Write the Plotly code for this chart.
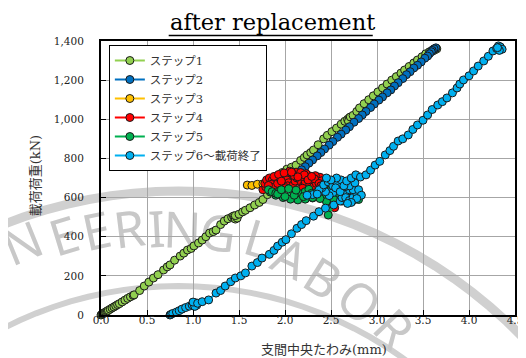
import math
import plotly.graph_objects as go

# ---------------- data ----------------
series_names = ["ステップ1", "ステップ2", "ステップ3", "ステップ4", "ステップ5", "ステップ6〜載荷終了"]
series_colors = ["#92D050", "#0070C0", "#FFC000", "#FF0000", "#00B050", "#00B0F0"]

step1_x = [0.00, 0.01, 0.02, 0.02, 0.03, 0.04, 0.05, 0.06, 0.07, 0.08, 0.10, 0.12, 0.14, 0.16, 0.18,
           0.20, 0.23, 0.26, 0.29, 0.32, 0.35, 0.36, 0.42, 0.47, 0.52, 0.57, 0.62, 0.68, 0.72, 0.75,
           0.80, 0.86, 0.90, 0.94, 0.98, 1.01, 1.06, 1.10, 1.14, 1.18, 1.22, 1.25, 1.30, 1.34, 1.38,
           1.42, 1.44, 1.45, 1.46, 1.47, 1.48, 1.46, 1.50, 1.54, 1.57, 1.62, 1.67, 1.72, 1.76, 1.81,
           1.86, 1.90, 1.94, 1.97, 2.02, 2.07, 2.12, 2.17, 2.21, 2.24, 2.28, 2.31, 2.36, 2.42, 2.46,
           2.51, 2.56, 2.61, 2.65, 2.68, 2.70, 2.72, 2.69, 2.71, 2.74, 2.78, 2.81, 2.86, 2.91, 2.96,
           3.01, 3.06, 3.11, 3.16, 3.21, 3.26, 3.30, 3.35, 3.40, 3.44, 3.49, 3.53, 3.57, 3.60, 3.62,
           3.64, 3.65, 3.63, 3.61]
step1_y = [0, 3, 6, 8, 10, 12, 15, 18, 21, 24, 30, 36, 41, 47, 53,
           58, 67, 76, 85, 93, 100, 103, 125, 148, 168, 189, 206, 230, 246, 256,
           280, 301, 316, 332, 340, 353, 368, 383, 400, 419, 426, 434, 462, 480, 492,
           500, 506, 498, 490, 503, 495, 508, 515, 527, 535, 548, 562, 575, 590, 615,
           650, 680, 705, 728, 745, 755, 766, 790, 805, 818, 830, 843, 870, 900, 918,
           937, 955, 975, 990, 1000, 1008, 995, 990, 1012, 1020, 1040, 1058, 1080, 1100, 1120,
           1140, 1160, 1180, 1200, 1218, 1236, 1252, 1270, 1288, 1303, 1320, 1335, 1345, 1352, 1358,
           1362, 1360, 1355, 1350]

step2_x = [3.64, 3.62, 3.60, 3.59, 3.57, 3.55, 3.52, 3.48, 3.44, 3.40, 3.36, 3.32, 3.28, 3.23, 3.19,
           3.15, 3.11, 3.06, 3.02, 2.97, 2.93, 2.88, 2.84, 2.80, 2.75, 2.70, 2.66, 2.61, 2.57, 2.52,
           2.48, 2.43, 2.39, 2.35, 2.30, 2.26, 2.22, 2.18, 2.14, 2.10]
step2_y = [1365, 1360, 1352, 1345, 1335, 1323, 1312, 1293, 1276, 1262, 1243, 1228, 1208, 1187, 1170,
           1150, 1135, 1114, 1098, 1078, 1060, 1040, 1022, 1004, 985, 962, 945, 924, 908, 886,
           868, 848, 830, 813, 792, 776, 758, 742, 725, 710]

step3_x = [1.59, 1.64, 1.70, 1.76, 1.80]
step3_y = [664, 662, 668, 670, 676]

step4_x = [1.80, 1.76, 1.79, 1.78, 1.80, 1.83, 1.86, 1.85, 1.89, 1.92, 1.95, 1.97, 2.00, 2.02, 2.04,
           2.03, 2.06, 2.09, 2.11, 2.13, 2.15, 2.12, 2.08, 2.05, 2.10, 2.16, 2.18, 2.20, 2.22, 2.24,
           2.26, 2.23, 2.19, 2.17, 2.21, 2.28, 2.30, 2.27, 2.31, 2.34, 2.36, 2.38, 2.33, 2.40, 2.42,
           2.44, 2.41, 2.45, 2.47, 2.50, 2.53, 2.56, 2.60, 2.63, 2.66, 2.69, 2.72, 2.58, 2.54, 2.52,
           2.54, 1.88, 1.93, 1.99, 2.07, 2.14, 2.25, 2.32, 2.37, 1.82, 1.96, 2.01, 2.19, 2.29, 2.39]
step4_y = [676, 640, 655, 672, 690, 700, 688, 668, 655, 672, 695, 712, 705, 690, 676,
           660, 648, 665, 684, 700, 718, 730, 722, 735, 712, 695, 676, 660, 680, 698,
           712, 722, 708, 728, 716, 700, 684, 668, 655, 672, 690, 704, 712, 686, 670,
           656, 645, 690, 676, 660, 645, 668, 652, 638, 660, 645, 630, 612, 590, 560,
           548, 708, 718, 726, 730, 706, 690, 696, 672, 662, 684, 650, 648, 708, 660]

step5_x = [2.53, 2.47, 2.42, 2.36, 2.30, 2.22, 2.14, 2.06, 1.98, 1.90, 1.84, 1.82, 1.86, 1.90,
           1.94, 1.92, 2.18, 2.22, 2.26, 2.29, 2.32, 2.35, 2.38, 2.41, 2.44, 2.47, 2.50, 2.53, 2.56,
           2.59, 2.62, 2.65, 2.68, 2.72, 2.76, 2.80, 2.74, 2.70, 2.62, 2.55, 2.47, 2.53,
           2.45, 2.38, 2.30, 2.20, 2.10, 2.00, 1.96, 2.04, 2.12]
step5_y = [590, 600, 612, 605, 598, 592, 588, 592, 600, 612, 628, 640, 630, 622,
           635, 618, 620, 630, 642, 622, 610, 628, 640, 620, 605, 625, 640, 615, 600,
           620, 635, 612, 598, 615, 605, 590, 585, 578, 582, 580, 511, 590,
           580, 595, 600, 605, 612, 605, 640, 645, 638]

step6_x = [0.75, 0.76, 0.78, 0.82, 0.85, 0.88, 0.92, 0.96, 0.99, 1.01, 1.03, 1.04, 1.02, 1.00, 1.05,
           1.10, 1.17, 1.25, 1.30, 1.35, 1.41, 1.46, 1.52, 1.57, 1.64, 1.70, 1.75, 1.83, 1.88, 1.92,
           1.97, 2.01, 2.07, 2.13, 2.18, 2.23, 2.31, 2.37, 2.44, 2.53, 2.60, 2.62, 2.66, 2.70, 2.65,
           2.58, 2.52, 2.48, 2.44, 2.40, 2.37, 2.42, 2.47, 2.52, 2.57, 2.61, 2.56, 2.50, 2.45, 2.30,
           2.24, 2.35, 2.55, 2.60, 2.66, 2.70, 2.74, 2.78, 2.74, 2.70, 2.76, 2.80, 2.83, 2.78, 2.72,
           2.68, 2.64, 2.67, 2.72, 2.77, 2.82, 2.88, 2.93, 2.98, 3.03, 3.09, 3.14, 3.18, 3.23, 3.28,
           3.34, 3.39, 3.44, 3.50, 3.55, 3.60, 3.66, 3.71, 3.76, 3.82, 3.87, 3.90, 3.94, 4.00, 4.05,
           4.10, 4.16, 4.21, 4.26, 4.30, 4.32, 4.34, 4.36, 4.33, 4.31]
step6_y = [0, 3, 8, 15, 22, 30, 38, 45, 52, 58, 62, 50, 44, 66, 60,
           68, 77, 112, 125, 148, 170, 189, 200, 215, 250, 268, 291, 310, 330, 352,
           372, 385, 415, 443, 462, 482, 505, 528, 546, 562, 582, 600, 620, 640, 655,
           640, 625, 610, 630, 650, 640, 665, 680, 660, 672, 690, 700, 690, 700, 615,
           612, 618, 650, 630, 600, 585, 600, 620, 640, 660, 675, 640, 612, 595, 575,
           570, 660, 685, 700, 716, 705, 716, 740, 766, 785, 818, 840, 862, 889, 900,
           920, 948, 971, 995, 1022, 1050, 1073, 1090, 1109, 1135, 1160, 1180, 1201, 1222, 1247,
           1272, 1298, 1322, 1349, 1362, 1375, 1370, 1358, 1352, 1366]

x_ticks = [0.0, 0.5, 1.0, 1.5, 2.0, 2.5, 3.0, 3.5, 4.0, 4.5]
y_ticks = [0, 200, 400, 600, 800, 1000, 1200, 1400]

title_text = "after replacement"
x_title = "支間中央たわみ(mm)"
y_title = "載荷荷重(kN)"

# watermark (decoration)
wm_letters = ["N", "E", "E", "R", "I", "N", "G", "L", "A", "B", "O", "R"]

# ---------------- geometry helpers (pixel -> paper) ----------------
W, H = 526, 358
L_PX, R_PX, T_PX, B_PX = 93, 515, 33, 307


def px_x(px):
    return (px - L_PX) / (R_PX - L_PX)


def px_y(py):
    return (B_PX - py) / (B_PX - T_PX)


serif = "DejaVu Serif, serif"
mixed_font = "DejaVu Serif, Noto Sans CJK JP"

xs = [step1_x, step2_x, step3_x, step4_x, step5_x, step6_x]
ys = [step1_y, step2_y, step3_y, step4_y, step5_y, step6_y]

fig = go.Figure()
for name, col, xv, yv in zip(series_names, series_colors, xs, ys):
    fig.add_trace(go.Scatter(
        x=xv, y=yv, name=name, mode="lines+markers",
        line=dict(color=col, width=2),
        marker=dict(color=col, size=8, line=dict(color="#1a1a1a", width=1)),
        cliponaxis=False,
    ))


def arc_path(cx, cy, r, a0, a1, n=60):
    pts = []
    for i in range(n + 1):
        a = math.radians(a0 + (a1 - a0) * i / n)
        px = cx + r * math.sin(a)
        py = cy - r * math.cos(a)
        pts.append(f"{px_x(px):.4f},{px_y(py):.4f}")
    return "M " + " L ".join(pts)


shapes = []
# watermark rings
for (cx, cy, r, w) in [(172, 677, 494, 9), (172, 677, 399, 6)]:
    shapes.append(dict(type="path", xref="paper", yref="paper",
                       path=arc_path(cx, cy, r, -80, 80),
                       line=dict(color="#d0d0d0", width=w), layer="below"))
wm_pos = [(14, 237, -22), (56, 230, -17), (89, 225, -12), (122, 223, -7), (150, 223, -3),
          (176, 224, 2), (212, 227, 8), (253, 233, 17), (285, 252, 25), (318, 272, 32),
          (355, 295, 39), (390, 322, 46)]
for ch, (lx, ly, ang) in zip(wm_letters, wm_pos):
    shapes.append(dict(type="rect", xref="paper", yref="paper",
                       x0=px_x(lx - 1), x1=px_x(lx + 1), y0=px_y(ly + 1), y1=px_y(ly - 1),
                       line=dict(width=0), fillcolor="rgba(0,0,0,0)", layer="below",
                       label=dict(text=ch, textangle=ang, textposition="middle center",
                                  xanchor="center", yanchor="middle", padding=0,
                                  font=dict(family="Noto Sans", size=50, color="#c8c8c8"))))
# title underline
shapes.append(dict(type="line", xref="paper", yref="paper",
                   x0=px_x(162), x1=px_x(370), y0=px_y(27.5), y1=px_y(27.5),
                   line=dict(color="black", width=1.3)))

annotations = [
    dict(text=title_text, xref="paper", yref="paper", x=px_x(268), y=px_y(14),
         xanchor="center", yanchor="middle", showarrow=False,
         font=dict(family=serif, size=22.5, color="black")),
    dict(text=x_title, xref="paper", yref="paper", x=px_x(320), y=px_y(341),
         xanchor="center", yanchor="middle", showarrow=False,
         font=dict(family=mixed_font, size=13, color="#333333")),
    dict(text=y_title, xref="paper", yref="paper", x=px_x(26), y=px_y(168),
         xanchor="center", yanchor="middle", showarrow=False, textangle=-90,
         font=dict(family=mixed_font, size=13, color="#333333")),
]

fig.update_layout(
    width=W, height=H,
    margin=dict(l=L_PX, r=W - R_PX, t=T_PX, b=H - B_PX, pad=0),
    paper_bgcolor="white", plot_bgcolor="rgba(0,0,0,0)",
    shapes=shapes, annotations=annotations,
    showlegend=True,
    legend=dict(x=px_x(101), y=px_y(37), xanchor="left", yanchor="top",
                bgcolor="white", bordercolor="black", borderwidth=1,
                font=dict(family=mixed_font, size=11.5, color="#333333"),
                tracegroupgap=0, itemwidth=30),
    xaxis=dict(range=[0, 4.5], tickvals=x_ticks, tickformat=".1f",
               showgrid=True, gridcolor="#a6a6a6", gridwidth=1,
               showline=True, linecolor="black", linewidth=2, mirror=True,
               ticks="inside", ticklen=5, tickcolor="black",
               zeroline=False, ticklabelstandoff=-6,
               tickfont=dict(family=serif, size=10.5, color="#222222")),
    yaxis=dict(range=[0, 1400], tickvals=y_ticks, tickformat=",d",
               showgrid=True, gridcolor="#a6a6a6", gridwidth=1,
               showline=True, linecolor="black", linewidth=2, mirror=True,
               ticks="inside", ticklen=5, tickcolor="black",
               zeroline=False, ticklabelstandoff=13,
               tickfont=dict(family=serif, size=10.5, color="#222222")),
)

fig.write_html("out.html")
